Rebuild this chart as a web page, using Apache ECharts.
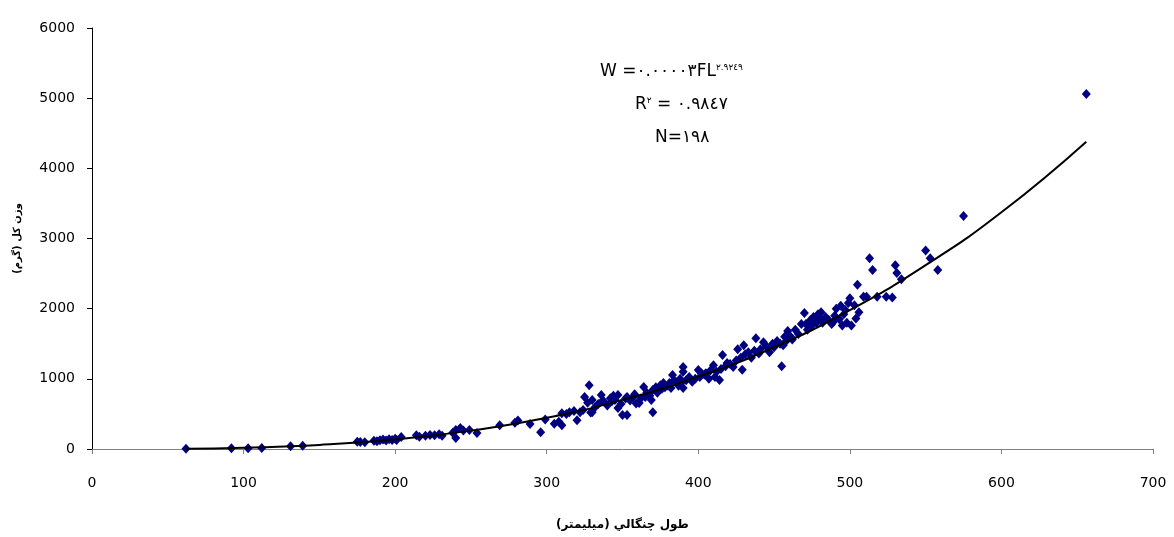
<!DOCTYPE html>
<html>
<head>
<meta charset="utf-8">
<script src="https://cdn.jsdelivr.net/npm/echarts@6/dist/echarts.min.js"></script>
<style>
  html, body { margin: 0; padding: 0; background: #fff; }
  #chart { width: 1174px; height: 537px; }
</style>
</head>
<body>
<div id="chart"></div>
<script>
// fork length (mm) and total weight (g)
const lengths = [
    62, 92, 103, 112, 131, 139,
    175, 177, 180, 186, 188, 190, 192, 194, 196, 198, 200, 201, 204, 214, 216, 220, 223, 226, 229, 231, 238, 240, 240, 243, 245, 249, 254,
    269, 279, 281, 289, 296, 299,
    305, 308, 310, 310, 313, 315, 318, 320, 322, 324, 325, 327, 328, 329, 330, 330,
    332, 334, 336, 337, 338, 340, 342, 343, 345, 347, 347, 349, 350, 352, 353, 353, 355, 357, 358, 359,
    361, 362, 364, 365, 366, 368, 369, 370, 370, 372, 373, 375, 376, 377, 378, 380, 381, 382, 383, 384, 386, 387, 388, 390, 390, 390, 389,
    392, 394, 396, 398, 400, 401, 402, 404, 405, 407, 408, 410, 411, 412, 414, 415, 416, 418, 419,
    421, 423, 425, 426, 428, 429, 430, 431, 433, 435, 437, 438, 440, 441, 443, 445, 447, 449, 450, 452, 454, 455, 456, 457, 458, 459,
    461, 462, 464, 466, 468, 470, 471, 472, 474, 475, 476, 478, 479, 480, 481, 482, 484, 486, 488, 489, 490, 491, 493, 494, 495, 496, 497, 498, 499, 500,
    501, 503, 504, 505, 506, 509, 511, 513, 515, 518, 524, 528, 530, 531, 534, 550, 553, 558, 575,
    656, 344
];
const weights = [
    5, 10, 12, 15, 40, 48,
    105, 98, 95, 118, 110, 125, 135, 120, 140, 130, 145, 128, 170, 195, 175, 190, 200, 195, 210, 190, 230, 158, 270, 300, 265, 270, 228,
    340, 375, 405, 355, 240, 420,
    360, 390, 340, 510, 500, 525, 540, 410, 525, 555, 740, 660, 910, 520, 700, 525,
    600, 640, 770, 690, 670, 620, 725, 680, 700, 770, 585, 640, 485, 720, 485, 740, 690, 740, 780, 650,
    655, 720, 885, 740, 800, 760, 700, 525, 840, 880, 800, 910, 860, 940, 880, 900, 940, 870, 1055, 980, 955, 900, 1000, 1170, 1100, 870, 950,
    980, 1025, 960, 1000, 1125, 1025, 1080, 1060, 1080, 1000, 1120, 1195, 1025, 1100, 985, 1140, 1340, 1180, 1225,
    1210, 1170, 1260, 1420, 1300, 1130, 1480, 1350, 1380, 1300, 1400, 1580, 1360, 1420, 1520, 1460, 1380, 1500, 1450, 1540, 1500, 1180, 1480, 1600, 1540, 1680,
    1600, 1560, 1700, 1640, 1780, 1940, 1780, 1700, 1840, 1760, 1880, 1800, 1920, 1860, 1950, 1800, 1880, 1840, 1780, 1810, 1900, 2000, 1850, 2040, 1760, 1920, 1980, 1800, 2080, 2150,
    1760, 2050, 1860, 2340, 1950, 2170, 2170, 2720, 2550, 2170, 2170, 2160, 2620, 2510, 2420, 2830, 2720, 2550, 3320,
    5060, 760
];

// power trend line
const trendX = [62, 100, 150, 200, 250, 300, 350, 400, 450, 500, 550, 600, 656];
const trendY = [4, 18, 58, 136, 262, 444, 700, 1031, 1450, 1979, 2620, 3373, 4380];

const xTicks = { min: 0, max: 700, step: 100 };
const yTicks = { min: 0, max: 6000, step: 1000 };

const chart = echarts.init(document.getElementById('chart'));

const points = lengths.map((x, i) => [x, weights[i]]);
const trend = trendX.map((x, i) => [x, trendY[i]]);

const font = '"DejaVu Sans", Arial, sans-serif';

chart.setOption({
    backgroundColor: '#fff',
    animation: false,
    grid: { left: 92, right: 21, top: 28, bottom: 88 },
    xAxis: {
        type: 'value',
        min: xTicks.min, max: xTicks.max, interval: xTicks.step,
        name: 'طول چنگالي (ميليمتر)',
        nameLocation: 'middle',
        nameGap: 70,
        nameTextStyle: { fontFamily: font, fontSize: 12, fontWeight: 'bold', color: '#000' },
        axisLine: { lineStyle: { color: '#808080', width: 1 } },
        axisTick: { length: 5, lineStyle: { color: '#808080' } },
        axisLabel: { fontFamily: font, fontSize: 14, color: '#000', margin: 27 },
        splitLine: { show: false }
    },
    yAxis: {
        type: 'value',
        min: yTicks.min, max: yTicks.max, interval: yTicks.step,
        name: 'وزن کل (گرم)',
        nameLocation: 'middle',
        nameRotate: 90,
        nameGap: 70,
        nameTextStyle: { fontFamily: font, fontSize: 10, fontWeight: 'bold', color: '#000' },
        axisLine: { show: true, lineStyle: { color: '#000', width: 1 } },
        axisTick: { show: true, length: 5, lineStyle: { color: '#000' } },
        axisLabel: {
            fontFamily: font, fontSize: 14, color: '#000', margin: 17,
            formatter: v => String(v)
        },
        splitLine: { show: false }
    },
    graphic: [
        {
            type: 'text', left: 600, top: 63,
            style: {
                text: '{m|W =٠.٠٠٠٠٣FL}{s|٢.٩٢٤٩}',
                rich: {
                    m: { fontFamily: font, fontSize: 17, fill: '#000' },
                    s: { fontFamily: font, fontSize: 9, fill: '#000', verticalAlign: 'top' }
                }
            }
        },
        {
            type: 'text', left: 635, top: 96,
            style: {
                text: '{m|R}{s|٢}{m| = ٠.٩٨٤٧}',
                rich: {
                    m: { fontFamily: font, fontSize: 17, fill: '#000' },
                    s: { fontFamily: font, fontSize: 9, fill: '#000', verticalAlign: 'top' }
                }
            }
        },
        {
            type: 'text', left: 655, top: 129,
            style: { text: 'N=١٩٨', fontFamily: font, fontSize: 17, fill: '#000' }
        }
    ],
    series: [
        {
            type: 'scatter',
            data: points,
            symbol: 'diamond',
            symbolSize: [9, 10],
            itemStyle: { color: '#000080', opacity: 1 }
        },
        {
            type: 'line',
            data: trend,
            smooth: true,
            showSymbol: false,
            lineStyle: { color: '#000', width: 2 },
            z: 3
        }
    ]
});
</script>
</body>
</html>
